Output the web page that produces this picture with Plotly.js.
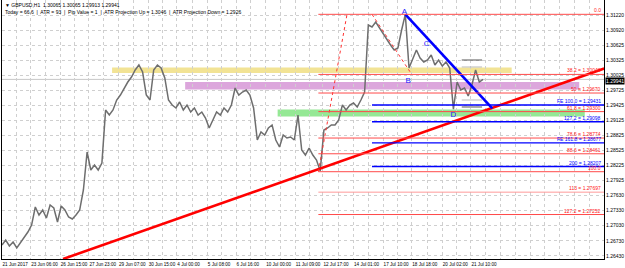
<!DOCTYPE html>
<html><head><meta charset="utf-8">
<script src="https://cdn.plot.ly/plotly-3.0.1.min.js"></script>
<style>html,body{margin:0;padding:0;background:#fff}#chart{width:625px;height:268px}</style>
</head><body><div id="chart"></div>
<script>
const closes = [
1.26645,1.26745,1.26626,1.26705,1.26586,1.26685,1.26785,1.26904,1.27043,1.27402,
1.27242,1.27342,1.27183,1.27441,1.27382,1.27103,1.27422,1.27342,1.27203,1.27163,
1.27242,1.27342,1.27740,1.28496,1.28138,1.28237,1.28138,1.28277,1.29332,1.29232,
1.29332,1.29531,1.29630,1.29770,1.29889,1.29989,1.30128,1.30228,1.30088,1.29630,
1.29531,1.30128,1.30228,1.30168,1.29969,1.29531,1.29431,1.29372,1.29491,1.29332,
1.29431,1.29292,1.29372,1.29232,1.29292,1.29173,1.28974,1.29133,1.29292,1.29232,
1.29372,1.29292,1.29431,1.29770,1.29630,1.29690,1.29730,1.29630,1.29372,1.28735,
1.28894,1.28834,1.28974,1.29033,1.28735,1.28596,1.28834,1.28775,1.28795,1.28735,
1.29232,1.28536,1.28436,1.28576,1.28436,1.28337,1.28120,1.28934,1.28974,1.29033,
1.29033,1.29133,1.29431,1.29332,1.29431,1.29471,1.29392,1.29531,1.29690,1.31024,
1.30984,1.31083,1.30964,1.30864,1.30725,1.30626,1.30526,1.30566,1.30924,1.31236,
1.30168,1.30367,1.30526,1.30367,1.30287,1.30327,1.30427,1.30228,1.30327,1.30208,
1.30287,1.30168,1.29350,1.29889,1.29730,1.29770,1.29611,1.29830,1.30128,1.29889,
1.29941];
const barStep = 4;
const bars = closes.map((_, i) => i * barStep);

const xTickBars = [0,31,63,94,126,158,189,222,253,285,317,347,380,412,443,476,507];
const xTickLabels = ["21 Jun 2017","23 Jun 06:00","26 Jun 15:00","27 Jun 23:00","29 Jun 07:00","30 Jun 15:00","4 Jul 00:00","5 Jul 08:00","6 Jul 16:00","10 Jul 00:00","11 Jul 09:00","12 Jul 17:00","14 Jul 01:00","17 Jul 10:00","18 Jul 18:00","20 Jul 02:00","21 Jul 10:00"];
const yTickValues = [1.31220,1.30920,1.30625,1.30325,1.30025,1.29725,1.29425,1.29125,1.28825,1.28525,1.28225,1.27925,1.27630,1.27330,1.27030,1.26730,1.26430];

const fibNames = ["0.0","38.2","50","61.8","78.6","88.6","100.0","113","127.2"];
const fibPrices = [1.31236,1.30040,1.29670,1.29300,1.28774,1.28461,1.28104,1.27697,1.27252];
const fibShowPrice = [false,true,true,true,true,true,false,true,true];
const fibStartBar = 342;
const feNames = ["FE 100.0","127.2","FE 161.8","200"];
const fePrices = [1.29431,1.29098,1.28677,1.28207];
const feStartBar = 400;

const zoneX0 = [119, 198, 298];
const zoneX1 = [551, 624, 630];
const zoneTop = [1.30178, 1.29889, 1.29342];
const zoneBottom = [1.30068, 1.29740, 1.29203];

const redTrendBars = [66, 651];
const redTrendPrices = [1.26367, 1.30158];
const blueTrendBars = [436, 530];
const blueTrendPrices = [1.31236, 1.29366];
const dotted1Bars = [342, 373];
const dotted1Prices = [1.28104, 1.31236];
const dotted2Bars = [400, 441];
const dotted2Prices = [1.31236, 1.30095];

const pointNames = ["A","B","C","D"];
const pointBars = [435, 439, 459, 488];
const pointPrices = [1.31288, 1.29900, 1.30639, 1.29233];

const boxBars = [497, 519];
const boxLevels = [1.30327, 1.30188, 1.29531, 1.29392];

const xMax = 650.8;
const yMin = 1.26367, yMax = 1.31521;
const lastPrice = closes[closes.length - 1];

// x ticks with midpoints for grid
const tv = [], tt = [];
for (let i = 0; i < xTickBars.length; i++) {
  tv.push(xTickBars[i]); tt.push(xTickLabels[i]);
  if (i < xTickBars.length - 1) { tv.push((xTickBars[i] + xTickBars[i+1]) / 2); tt.push(""); }
}
for (let b = xTickBars[xTickBars.length-1] + 16; b < xMax; b += 16) { tv.push(b); tt.push(""); }

const FONT = "Liberation Sans, Arial, sans-serif";
const NARROW = "Liberation Sans Narrow, Arial Narrow, Liberation Sans, sans-serif";
const traces = [];
traces.push({x: bars, y: closes, type: 'scatter', mode: 'lines', line: {color: '#6e6e6e', width: 1.5}, hoverinfo: 'skip'});
traces.push({x: redTrendBars, y: redTrendPrices, type: 'scatter', mode: 'lines', line: {color: '#ff0000', width: 2.6}});
traces.push({x: blueTrendBars, y: blueTrendPrices, type: 'scatter', mode: 'lines', line: {color: '#0000ff', width: 2.6}});
traces.push({x: dotted1Bars, y: dotted1Prices, type: 'scatter', mode: 'lines', line: {color: '#ff3030', width: 1, dash: 'dot'}});
traces.push({x: dotted2Bars, y: dotted2Prices, type: 'scatter', mode: 'lines', line: {color: '#ff3030', width: 1, dash: 'dot'}});
traces.push({x: pointBars, y: pointPrices, type: 'scatter', mode: 'text', text: pointNames, textfont: {color: '#1a1aff', size: 8, family: FONT}});

const shapes = [];
const zoneColors = ["rgba(240,222,130,0.85)", "rgba(214,150,214,0.85)", "rgba(130,228,130,0.85)"];
for (let i = 0; i < zoneX0.length; i++) {
  shapes.push({type: 'rect', xref: 'x', yref: 'y', x0: zoneX0[i], x1: zoneX1[i], y0: zoneBottom[i], y1: zoneTop[i], fillcolor: zoneColors[i], line: {width: 0}, layer: 'below'});
}
shapes.push({type: 'line', xref: 'paper', yref: 'y', x0: 0, x1: 1, y0: lastPrice, y1: lastPrice, line: {color: '#c8c8c8', width: 1}, layer: 'below'});
const annotations = [];
fibPrices.forEach((p, i) => {
  const light = fibNames[i] === "113";
  shapes.push({type: 'line', xref: 'x', yref: 'y', x0: fibStartBar, x1: xMax, y0: p, y1: p, line: {color: light ? '#ff9a9a' : '#ff4a4a', width: 1}});
  annotations.push({xref: 'x', yref: 'y', x: xMax, y: p, xanchor: 'right', yanchor: 'bottom', xshift: -1, yshift: -1, showarrow: false,
    text: fibNames[i] + (fibShowPrice[i] ? " = " + p.toFixed(5) : ""), font: {size: 5, color: '#ff2020', family: FONT}});
});
fePrices.forEach((p, i) => {
  shapes.push({type: 'line', xref: 'x', yref: 'y', x0: feStartBar, x1: xMax, y0: p, y1: p, line: {color: '#0000ff', width: 1.4}});
  annotations.push({xref: 'x', yref: 'y', x: xMax, y: p, xanchor: 'right', yanchor: 'bottom', xshift: -1, yshift: -1, showarrow: false,
    text: feNames[i] + " = " + p.toFixed(5), font: {size: 5, color: '#0000ff', family: FONT}});
});
boxLevels.forEach((p, i) => {
  shapes.push({type: 'line', xref: 'x', yref: 'y', x0: boxBars[0], x1: boxBars[1], y0: p, y1: p, line: {color: (i === 0 || i === 3) ? '#555555' : '#bbbbbb', width: 1}});
});
annotations.push({xref: 'paper', yref: 'y', x: 1, y: lastPrice, xanchor: 'left', yanchor: 'top', yshift: 2, showarrow: false, text: lastPrice.toFixed(5),
  bgcolor: '#000000', font: {size: 5, color: '#ffffff', family: FONT}, borderpad: 0, xshift: 1});
annotations.push({xref: 'paper', yref: 'paper', x: 0, y: 1, xanchor: 'left', yanchor: 'top', xshift: 1, yshift: 0, showarrow: false,
  text: "▼ GBPUSD,H1  1.30065 1.30065 1.29913 " + lastPrice.toFixed(5), font: {size: 5, color: '#000', family: FONT}});
annotations.push({xref: 'paper', yref: 'paper', x: 0, y: 1, xanchor: 'left', yanchor: 'top', xshift: 1, yshift: -7, showarrow: false,
  text: "Today = 66.6  |  ATR = 93  |  Pip Value = 1  |  ATR Projection Up = 1.3046  |  ATR Projection Down = 1.2926", font: {size: 5, color: '#000', family: FONT}});

const layout = {
  width: 625, height: 268,
  margin: {l: 2, r: 21, t: 0, b: 9, pad: 0},
  paper_bgcolor: '#ffffff', plot_bgcolor: '#ffffff',
  showlegend: false,
  font: {family: FONT, size: 5, color: '#000'},
  xaxis: {range: [0, xMax], tickmode: 'array', tickvals: tv, ticktext: tt, ticks: '', tickangle: 0, ticklabelstandoff: 0,
    ticklabelposition: 'outside right', automargin: false,
    showgrid: true, gridcolor: '#cfcfcf', griddash: 'dot', gridwidth: 1, zeroline: false,
    showline: true, linecolor: '#000', linewidth: 1, tickfont: {size: 4.6, family: NARROW}, fixedrange: true},
  yaxis: {range: [yMin, yMax], side: 'right', tickmode: 'array', tickvals: yTickValues, ticktext: yTickValues.map(v => v.toFixed(5)), ticks: '',
    automargin: false,
    showgrid: true, gridcolor: '#cfcfcf', griddash: 'dot', gridwidth: 1, zeroline: false,
    showline: true, mirror: true, linecolor: '#000', linewidth: 1, tickfont: {size: 5, family: FONT}, fixedrange: true},
  shapes: shapes, annotations: annotations
};
Plotly.newPlot('chart', traces, layout, {staticPlot: true, displayModeBar: false});
</script></body></html>
